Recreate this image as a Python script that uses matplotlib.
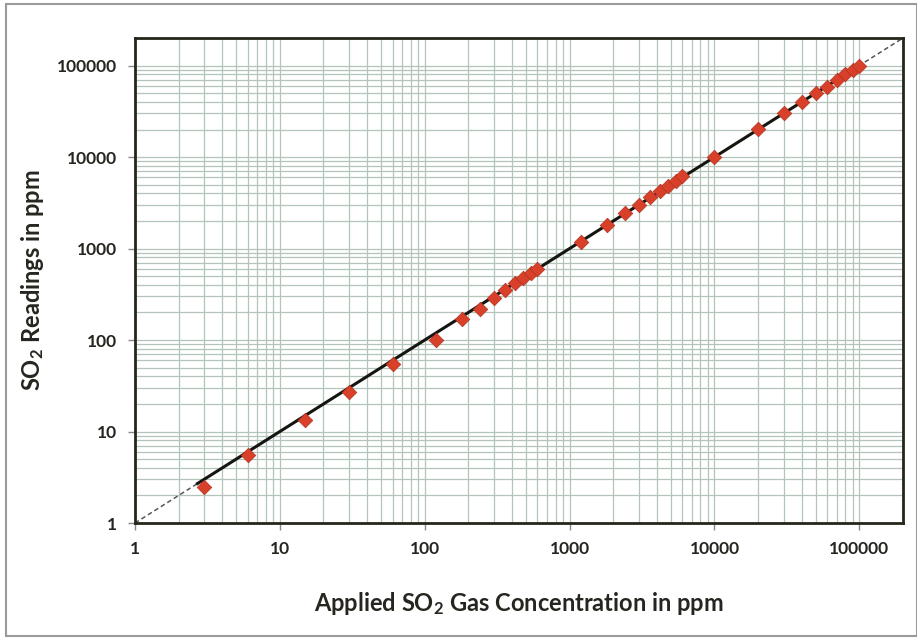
import matplotlib
matplotlib.use("Agg")
import matplotlib.pyplot as plt
from matplotlib.patches import Rectangle

# applied concentration (ppm) vs. instrument readings (ppm)
applied_ppm = [3, 6, 15, 30, 60, 120, 180, 240, 300, 360, 420, 480, 540, 600,
               1200, 1800, 2400, 3000, 3600, 4200, 4800, 5400, 6000,
               10000, 20000, 30000, 40000, 50000, 60000, 70000, 80000, 90000, 100000]
reading_ppm = [2.5, 5.5, 13.5, 27, 55, 100, 168, 220, 290, 350, 415, 475, 535, 600,
               1180, 1810, 2430, 3000, 3650, 4250, 4850, 5450, 6200,
               10000, 20300, 30500, 40200, 50500, 59000, 70000, 80000, 89000, 100000]

fit_x = [2.7, 100000]
ideal_x = [1, 200000]
axis_min, axis_max = 1, 200000
decades = [1, 10, 100, 1000, 10000, 100000]
decade_labels = ["1", "10", "100", "1000", "10000", "100000"]

plt.rcParams["font.family"] = ["Lato", "DejaVu Sans"]
plt.rcParams["mathtext.default"] = "regular"

text_col = "#262620"
grid_col = "#b3c4b8"

fig = plt.figure(figsize=(9.17, 6.39), dpi=100)
ax = fig.add_axes([0.1472, 0.1815, 0.8375, 0.759])

ax.set_xscale("log")
ax.set_yscale("log")
ax.set_xlim(axis_min, axis_max)
ax.set_ylim(axis_min, axis_max)

ax.grid(True, which="both", color=grid_col, linewidth=0.9)
ax.set_axisbelow(True)

ax.plot(ideal_x, ideal_x, linestyle=(0, (3, 2)), color="#555555", linewidth=1.1, zorder=2)
ax.plot(fit_x, fit_x, color="#161610", linewidth=2.2, zorder=3)
ax.scatter(applied_ppm, reading_ppm, marker="D", s=55, color="#d8402a",
           edgecolors="#b03020", linewidths=0.5, zorder=4)

ax.set_xticks(decades)
ax.set_xticklabels(decade_labels)
ax.set_yticks(decades)
ax.set_yticklabels(decade_labels)
ax.tick_params(which="minor", length=0)
ax.tick_params(which="major", length=5, width=1, color="#888888", direction="out",
               labelsize=12.5, labelcolor=text_col, pad=8)
for lbl in ax.get_xticklabels() + ax.get_yticklabels():
    lbl.set_fontweight("bold")

for sp in ax.spines.values():
    sp.set_linewidth(2)
    sp.set_color("#26261c")

ax.set_xlabel("Applied SO$_2$ Gas Concentration in ppm", fontsize=17, fontweight="bold",
              color=text_col, labelpad=24)
ax.set_ylabel("SO$_2$ Readings in ppm", fontsize=17, fontweight="bold",
              color=text_col, labelpad=8)

# page frame of the scanned figure
fig.patches.append(Rectangle((0.006, 0.004), 0.994, 0.99, transform=fig.transFigure,
                             fill=False, edgecolor="#9a9a9a", linewidth=1.5))

fig.savefig("out.png", dpi=100)
